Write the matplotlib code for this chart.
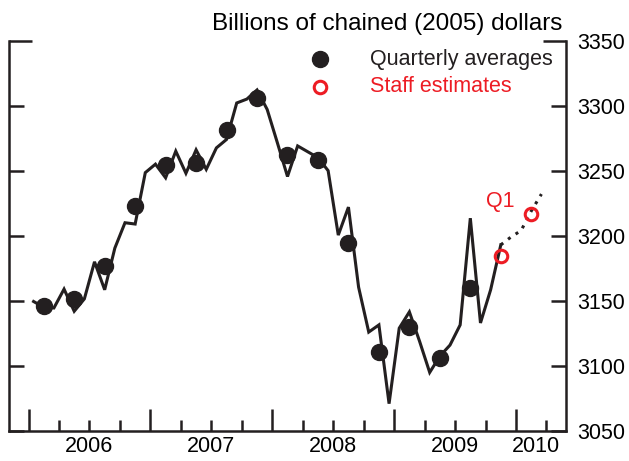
import numpy as np
import matplotlib.pyplot as plt

plt.rcParams["font.family"] = ["Liberation Sans", "DejaVu Sans"]

# monthly values, Jan 2006 - Nov 2009
monthly = [
    3149.5, 3145, 3144.5, 3159, 3142, 3151.5, 3180, 3158.5, 3190.5, 3210, 3209, 3248.5,
    3255, 3244.5, 3265, 3248, 3266, 3251, 3267.5, 3274, 3302, 3305, 3312, 3297,
    3271.5, 3245.5, 3269, 3264.5, 3260, 3250, 3200.5, 3222, 3160.5, 3126, 3131.5, 3071,
    3129, 3141.5, 3119, 3095, 3107.5, 3116, 3131.5, 3213.5, 3133, 3158.5, 3193,
]
# staff projection, Nov 2009 - Mar 2010
projection = [3193, 3199, 3204, 3219, 3232]

quarterly = [3146, 3151.5, 3177, 3223, 3254.5, 3256, 3281, 3305.5,
             3262, 3258.5, 3194.5, 3111, 3130, 3106, 3160]
staff = [3184.5, 3217]

years = ["2006", "2007", "2008", "2009", "2010"]
yticks = [3050, 3100, 3150, 3200, 3250, 3300, 3350]

start = 2006
black = "#231f20"
red = "#ed1c24"

x_month = start + (np.arange(len(monthly)) + 0.5) / 12
x_proj = start + (np.arange(len(projection)) + len(monthly) - 1 + 0.5) / 12
x_quarter = start + (np.arange(len(quarterly)) * 3 + 1.5) / 12
x_staff = start + ((np.arange(len(staff)) + len(quarterly)) * 3 + 1.5) / 12

fig = plt.figure(figsize=(6.29, 4.61), dpi=100)
ax = fig.add_axes([9 / 629, 30 / 461, 557 / 629, 390.5 / 461])

ax.plot(x_month, monthly, color=black, lw=2.2, solid_joinstyle="miter")
ax.plot(x_proj, projection, color=black, lw=2.2, linestyle=(0, (1, 2)))
ax.plot(x_quarter, quarterly, "o", color=black, ms=11.5)
ax.plot(x_staff, staff, "o", mfc="none", mec=red, mew=2.2, ms=9)

ax.annotate("Q1", xy=(x_staff[-1], staff[-1]), xytext=(-22, 8.5),
            textcoords="offset points", color=red, fontsize=15.5,
            ha="center", va="center")

xmin, xmax = 2005.84, 2010.41

ax.spines["top"].set_visible(False)
for s in ["left", "right", "bottom"]:
    ax.spines[s].set_linewidth(1.8)
    ax.spines[s].set_color(black)

ax.set_yticks(yticks)
ax.tick_params(axis="y", direction="in", left=True, right=True,
               labelleft=False, labelright=True, length=11, width=1.8,
               labelsize=15.5, pad=8, color=black)
# top tick is a bit longer
top_tick = ax.yaxis.get_major_ticks()[-1]
top_tick.tick1line.set_markersize(16.5)
top_tick.tick2line.set_markersize(16.5)

ax.set_xticks(np.arange(start, start + len(years)))
ax.set_xticks(np.arange(start, xmax, 0.25), minor=True)
ax.set_xticklabels([])
ax.tick_params(axis="x", which="major", direction="in", length=16, width=1.8, color=black)
ax.tick_params(axis="x", which="minor", direction="in", length=8, width=1.8, color=black)

ax.set_xlim(xmin, xmax)
ax.set_ylim(yticks[0], yticks[-1])

for i, lab in enumerate(years):
    a = max(start + i, xmin)
    b = min(start + i + 1, xmax - 0.08)
    ax.annotate(lab, xy=((a + b) / 2, 0), xycoords=ax.get_xaxis_transform(),
                xytext=(0, -11), textcoords="offset points",
                ha="center", va="center", fontsize=15.5)

# legend
ax.plot([0.558], [0.9526], "o", color=black, ms=11.5, transform=ax.transAxes, clip_on=False)
ax.plot([0.558], [0.881], "o", mfc="none", mec=red, mew=2.2, ms=9,
        transform=ax.transAxes, clip_on=False)
ax.text(0.648, 0.9526, "Quarterly averages", transform=ax.transAxes,
        va="center", ha="left", fontsize=15.5, color=black)
ax.text(0.648, 0.881, "Staff estimates", transform=ax.transAxes,
        va="center", ha="left", fontsize=15.5, color=red)

fig.text(562 / 629, (461 - 30) / 461, "Billions of chained (2005) dollars",
         ha="right", va="baseline", fontsize=17.5)

plt.savefig("out.png", dpi=100)
